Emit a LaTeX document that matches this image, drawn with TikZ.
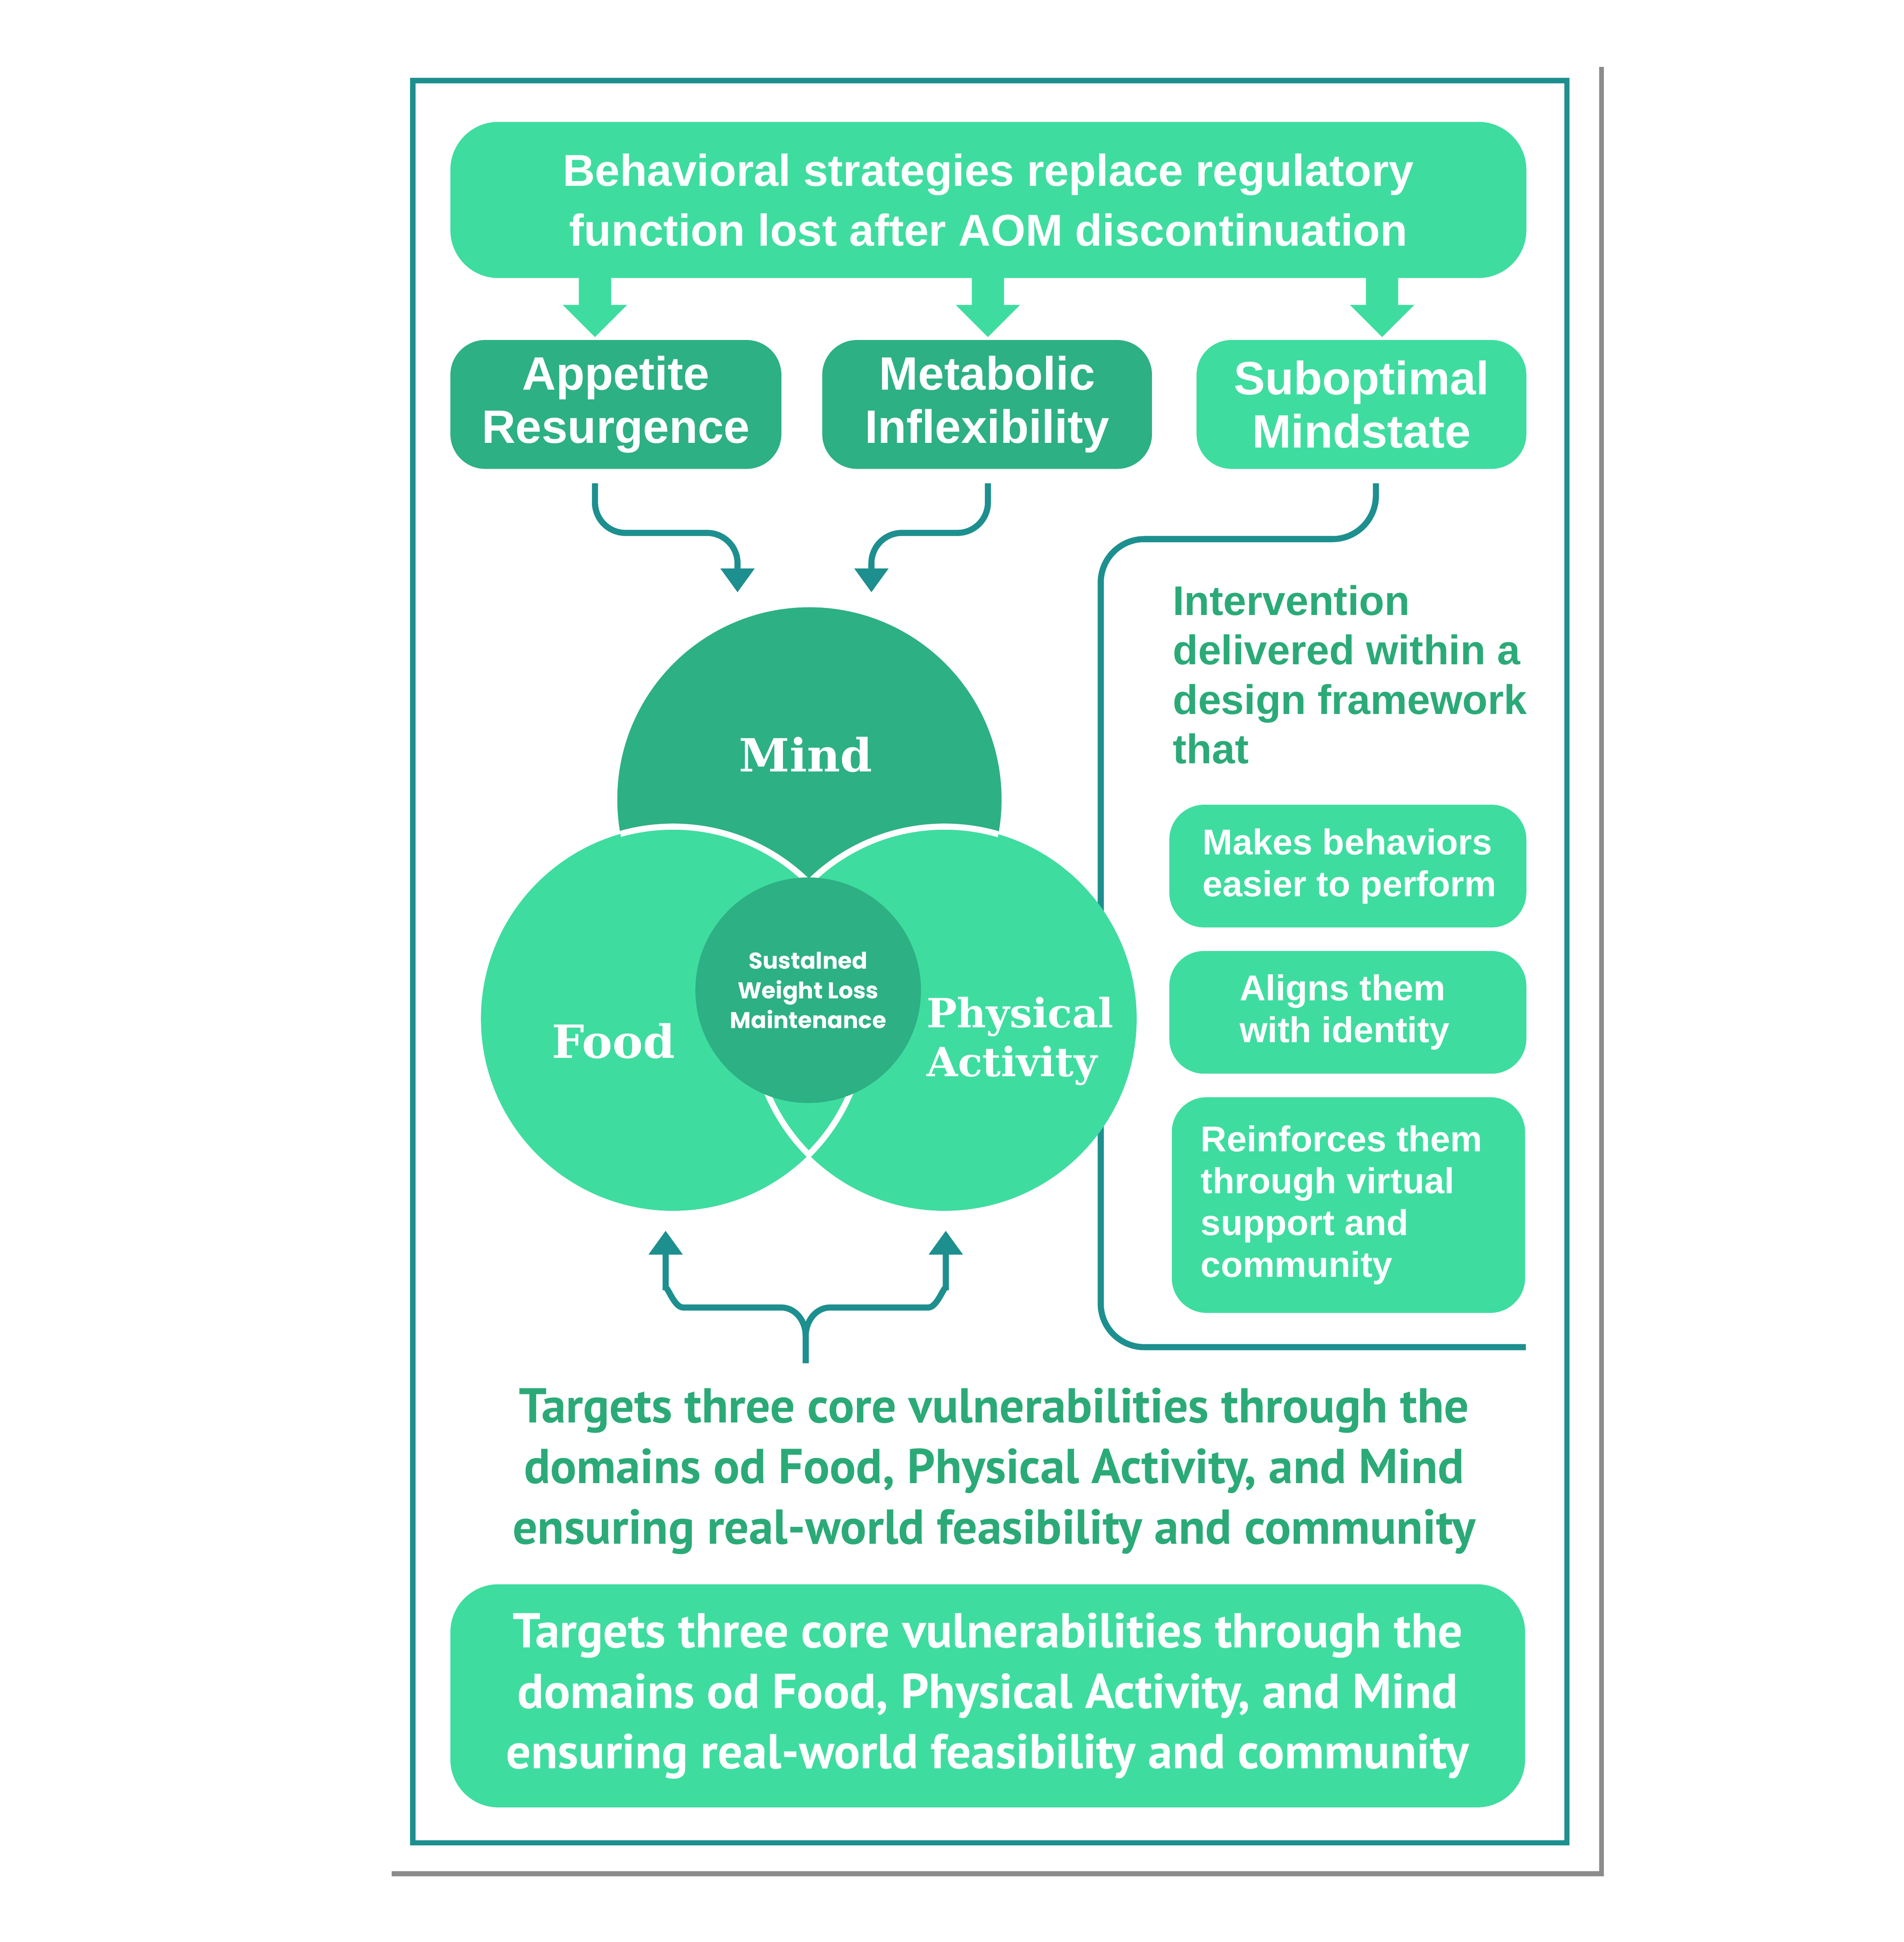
\documentclass[tikz,border=0pt]{standalone}
\usepackage{fontspec}
\setmainfont{Liberation Sans}
\newfontfamily\ptsans{PT Sans}
\newfontfamily\slab{DejaVu Serif}
\newfontfamily\pop{Poppins}
\usetikzlibrary{arrows.meta}
\definecolor{lg}{HTML}{3FDCA0}
\definecolor{dg}{HTML}{2DB084}
\definecolor{teal}{HTML}{1E8F8F}
\definecolor{tg}{HTML}{2BAA78}
\begin{document}
\begin{tikzpicture}[x=0.02cm,y=-0.02cm,
  box/.style={rounded corners=22pt,draw=none},
  wt/.style={text=white,font=\bfseries},
  conn/.style={draw=teal,line width=5\pgflinewidth*0+2.8pt,rounded corners=14pt},
  tip/.style={-{Triangle[width=15pt,length=11pt]}},
  blk/.style={fill=lg}]
\useasboundingbox (0,0) rectangle (1536,1567);
% paper
\fill[black!45] (316,54) rectangle (1294,1514);
\fill[white] (310,48) rectangle (1290,1510);
\draw[teal,line width=2.4pt] (333,65) rectangle (1264,1487);
% top box
\node[box,fill=lg,minimum width=868*0.02cm,minimum height=126*0.02cm,anchor=north west] (top) at (363,98) {};
\node[wt,align=center,font=\bfseries\fontsize{20.5}{27.5}\selectfont] at (top.center) {Behavioral strategies replace regulatory\\function lost after AOM discontinuation};
% block arrows
\foreach \x/\n in {480/a1,797/a2,1115/a3}{
  \fill[lg] (\x-13,224) -- (\x+13,224) -- (\x+13,246) -- (\x+26,246) -- (\x,272) -- (\x-26,246) -- (\x-13,246) -- cycle;
}
% three boxes
\node[box,fill=dg,minimum width=267*0.02cm,minimum height=104*0.02cm,anchor=north west,rounded corners=16pt] (b1) at (363,274) {};
\node[box,fill=dg,minimum width=266*0.02cm,minimum height=104*0.02cm,anchor=north west,rounded corners=16pt] (b2) at (663,274) {};
\node[box,fill=lg,minimum width=266*0.02cm,minimum height=104*0.02cm,anchor=north west,rounded corners=16pt] (b3) at (965,274) {};
\foreach \b/\t in {b1/{Appetite\\Resurgence},b2/{Metabolic\\Inflexibility},b3/{Suboptimal\\Mindstate}}
  \node[wt,align=center,font=\bfseries\fontsize{21.5}{24.5}\selectfont] at (\b.center) {\t};
% connectors
\coordinate (s1) at (480,390); \coordinate (e1) at (595,478);
\coordinate (s2) at (797,390); \coordinate (e2) at (703,478);
\coordinate (s3) at (1110,390); \coordinate (e3) at (1231,1087);
\draw[conn,tip] (s1) -- (480,430) -- (595,430) -- (e1);
\draw[conn,tip] (s2) -- (797,430) -- (703,430) -- (e2);
\draw[conn,rounded corners=20pt] (s3) -- (1110,435) -- (888,435) -- (888,1087) -- (e3);
% Venn
\fill[dg] (653,645) circle (155);
\fill[lg] (543,822) circle (155);
\fill[lg] (762,822) circle (155);
\begin{scope}
\clip (653,645) circle (155);
\draw[white,line width=2.8pt] (543,822) circle (155);
\draw[white,line width=2.8pt] (762,822) circle (155);
\end{scope}
\begin{scope}
\clip (543,822) circle (155);
\draw[white,line width=2.8pt] (762,822) circle (155);
\end{scope}
\begin{scope}
\clip (762,822) circle (155);
\draw[white,line width=2.8pt] (543,822) circle (155);
\end{scope}
\node[circle,fill=dg,minimum size=182*0.02cm] (ctr) at (652,799) {};
\node[text=white,align=center,font=\pop\bfseries\fontsize{10.5}{13.6}\selectfont] at (ctr.center) {Sustalned\\Weight Loss\\Maintenance};
\node[text=white,font=\slab\bfseries\fontsize{21}{24}\selectfont] (mind) at (650,609) {Mind};
\node[text=white,font=\slab\bfseries\fontsize{21}{24}\selectfont] (food) at (495,840) {Food};
\node[text=white,align=left,font=\slab\bfseries\fontsize{18.5}{22.5}\selectfont] (pa) at (823,840) {Physical\\Activity};
% right text
\node[anchor=north west,text=tg,align=left,font=\bfseries\fontsize{19}{22.7}\selectfont] (intv) at (940,466) {Intervention\\delivered within a\\design framework\\that};
\node[box,fill=lg,rounded corners=16pt,minimum width=288*0.02cm,minimum height=99*0.02cm,anchor=north west] (r1) at (943,649) {};
\node[box,fill=lg,rounded corners=16pt,minimum width=288*0.02cm,minimum height=99*0.02cm,anchor=north west] (r2) at (943,767) {};
\node[box,fill=lg,rounded corners=16pt,minimum width=285*0.02cm,minimum height=174*0.02cm,anchor=north west] (r3) at (945,885) {};
\node[wt,anchor=west,align=left,font=\bfseries\fontsize{16.5}{19.2}\selectfont] at ([xshift=12pt]r1.west) {Makes behaviors\\easier to perform};
\node[wt,anchor=west,align=left,font=\bfseries\fontsize{16.5}{19.2}\selectfont] at ([xshift=29pt]r2.west) {Aligns them\\with identity};
\node[wt,anchor=west,align=left,font=\bfseries\fontsize{16.5}{19.2}\selectfont] at ([xshift=10pt]r3.west) {Reinforces them\\through virtual\\support and\\community};
% bottom brace arrows
\coordinate (bs) at (650,1100);
\coordinate (bl) at (537,993);
\coordinate (br) at (763,993);
\draw[conn,rounded corners=0pt,tip] (bs) -- (650,1078) to[out=90,in=0] (630,1055) -- (551,1055) to[out=180,in=90] (537,1041) -- (bl);
\draw[conn,rounded corners=0pt,tip] (650,1078) to[out=90,in=180] (670,1055) -- (749,1055) to[out=0,in=90] (763,1041) -- (br);
% targets text
\node[text=tg,align=center,font=\ptsans\bfseries\fontsize{22.5}{27.8}\selectfont] (tt) at (802,1187) {Targets three core vulnerabilities through the\\domains od Food, Physical Activity, and Mind\\ensuring real-world feasibility and community};
\node[box,fill=lg,minimum width=867*0.02cm,minimum height=180*0.02cm,anchor=north west] (bot) at (363,1278) {};
\node[wt,align=center,font=\ptsans\bfseries\fontsize{22.5}{27.8}\selectfont] at (bot.center) {Targets three core vulnerabilities through the\\domains od Food, Physical Activity, and Mind\\ensuring real-world feasibility and community};
\end{tikzpicture}
\end{document}
